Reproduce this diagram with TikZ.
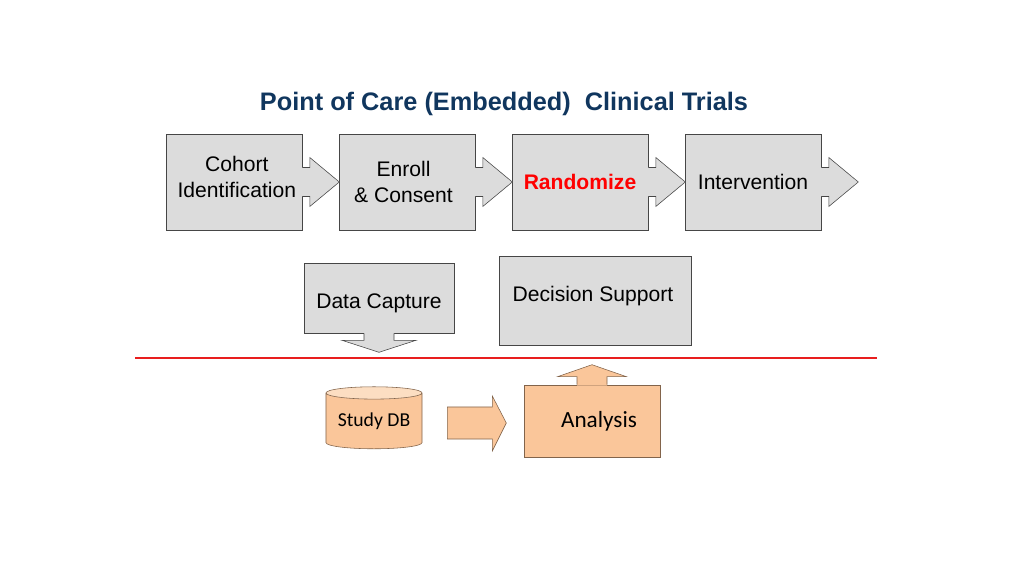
\documentclass[tikz,border=0pt]{standalone}
\usepackage{fontspec}
\setmainfont{Liberation Sans}
\newfontfamily\calfont{Carlito}
\usetikzlibrary{calc,shapes.geometric}
\definecolor{titleblue}{RGB}{16,54,94}
\definecolor{boxgrey}{RGB}{220,220,220}
\definecolor{boxline}{RGB}{70,70,70}
\definecolor{orangefill}{RGB}{250,198,154}
\definecolor{orangetop}{RGB}{252,222,194}
\definecolor{orangeline}{RGB}{130,100,75}
\definecolor{splitred}{RGB}{232,30,30}

% arrow stuck on the right side of a box
\newcommand{\rarrow}[1]{%
  \fill[boxgrey] ($(#1.east)+(-1,-14.5)$) -- ++(8.5,0) -- ++(0,-10) -- ($(#1.east)+(37,0)$)
    -- ($(#1.east)+(7.5,24.5)$) -- ++(0,-10) -- ($(#1.east)+(-1,14.5)$) -- cycle;
  \draw[boxline] ($(#1.east)+(0,-14.5)$) -- ++(7.5,0) -- ++(0,-10) -- ($(#1.east)+(37,0)$)
    -- ($(#1.east)+(7.5,24.5)$) -- ++(0,-10) -- ($(#1.east)+(0,14.5)$);
}

\begin{document}
\begin{tikzpicture}[x=0.025cm,y=-0.025cm,
    steptext/.style={align=center, font=\fontsize{15}{18}\selectfont},
    stepbox/.style={draw=boxline, fill=boxgrey, minimum width=3.4cm, minimum height=2.4cm, steptext},
    greybox/.style={draw=boxline, fill=boxgrey, steptext},
    orangebox/.style={draw=orangeline, fill=orangefill}]
  \useasboundingbox (0,0) rectangle (1024,576);

  \node[font=\bfseries\fontsize{18}{22}\selectfont, text=titleblue] (title) at (504,104)
    {Point of Care (Embedded)\ \ Clinical Trials};

  % top row
  \node[stepbox, label={[steptext, xshift=2pt, yshift=3.5pt]center:Cohort\\Identification}] (coh) at (234,182) {};
  \node[stepbox, label={[steptext, xshift=-2.5pt]center:Enroll\\\& Consent}] (enr) at (407,182) {};
  \node[stepbox, text=red, font=\bfseries\fontsize{15}{18}\selectfont] (ran) at (580,182) {Randomize};
  \node[stepbox] (int) at (753,182) {Intervention};
  \foreach \b in {coh,enr,ran,int} {\rarrow{\b}}

  % middle row
  \node[greybox, minimum width=3.75cm, minimum height=1.75cm,
    label={[steptext, yshift=-3.5pt]center:Data Capture}] (cap) at (379,298) {};
  \fill[boxgrey] ($(cap.south)+(-15,-1)$) -- ++(0,8) -- ++(-22,0) -- ($(cap.south)+(0,19)$)
    -- ($(cap.south)+(37,7)$) -- ++(-22,0) -- ($(cap.south)+(15,-1)$) -- cycle;
  \draw[boxline] ($(cap.south)+(-15,0)$) -- ++(0,7) -- ++(-22,0) -- ($(cap.south)+(0,19)$)
    -- ($(cap.south)+(37,7)$) -- ++(-22,0) -- ($(cap.south)+(15,0)$);
  \node[greybox, minimum width=4.8cm, minimum height=2.225cm,
    label={[steptext, xshift=-1.5pt, yshift=3.5pt]center:Decision Support}] (dec) at (595,300.5) {};

  % red divider
  \draw[splitred, line width=1.4pt] (135,358) -- (877,358);

  % bottom row
  \node[cylinder, shape border rotate=90, aspect=0.17, draw=orangeline,
    cylinder uses custom fill, cylinder body fill=orangefill, cylinder end fill=orangetop,
    minimum width=2.4cm, minimum height=1.55cm, inner sep=0pt,
    font=\calfont\fontsize{14}{16}\selectfont] (db) at (374,421) {Study DB};
  \node[orangebox, minimum width=3.4cm, minimum height=1.8cm,
    font=\calfont\fontsize{16.5}{19}\selectfont] (ana) at (592,421) {\hspace{10pt}Analysis};
  \draw[orangebox] ($(db.east)+(25,-14)$) -- ++(45,0) -- ++(0,-11) -- ($(db.east)+(84,2)$)
    -- ($(db.east)+(70,30)$) -- ++(0,-12) -- ($(db.east)+(25,18)$) -- cycle;
  \fill[orangefill] ($(ana.north)+(-15,1)$) -- ++(0,-9) -- ++(-19.5,0) -- ($(ana.north)+(0,-20)$)
    -- ($(ana.north)+(34.5,-8)$) -- ++(-19.5,0) -- ($(ana.north)+(15,1)$) -- cycle;
  \draw[orangeline] ($(ana.north)+(-15,0)$) -- ++(0,-8) -- ++(-19.5,0) -- ($(ana.north)+(0,-20)$)
    -- ($(ana.north)+(34.5,-8)$) -- ++(-19.5,0) -- ($(ana.north)+(15,0)$);
\end{tikzpicture}
\end{document}
